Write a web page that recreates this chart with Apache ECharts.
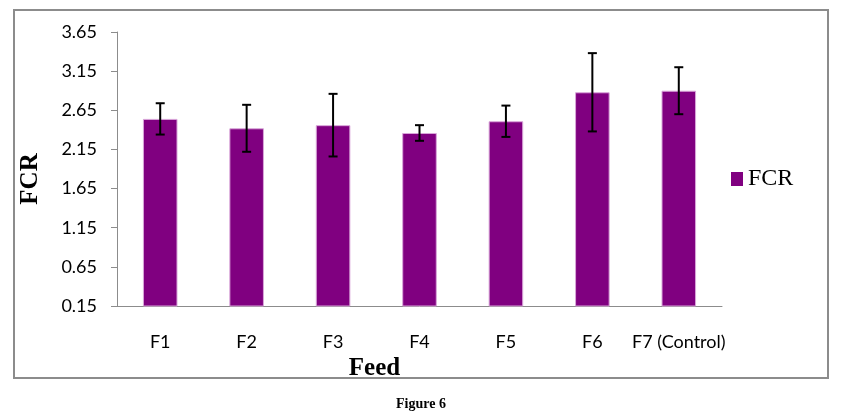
<!DOCTYPE html>
<html>
<head>
<meta charset="utf-8">
<script src="https://cdn.jsdelivr.net/npm/echarts@6/dist/echarts.min.js"></script>
<style>
  html, body { margin: 0; padding: 0; background: #fff; }
  #container { width: 842px; height: 420px; }
</style>
</head>
<body>
<div id="container"></div>
<script>
var feeds = ["F1", "F2", "F3", "F4", "F5", "F6", "F7 (Control)"];
var fcr = [2.54, 2.42, 2.46, 2.36, 2.51, 2.88, 2.90];
var fcrErr = [0.20, 0.30, 0.40, 0.10, 0.20, 0.50, 0.30];

var chart = echarts.init(document.getElementById("container"));

var errData = feeds.map(function (f, i) {
    return [i, fcr[i] - fcrErr[i], fcr[i] + fcrErr[i]];
});

var option = {
    animation: false,
    backgroundColor: "#fff",
    grid: { left: 117, right: 120, top: 32, bottom: 114 },
    legend: {
        data: [{ name: "FCR", icon: "rect", itemStyle: { borderWidth: 0 } }],
        orient: "vertical",
        left: 726, top: 162,
        itemWidth: 12, itemHeight: 14, itemGap: 6,
        textStyle: { fontFamily: "Liberation Serif", fontSize: 24, color: "#000" }
    },
    xAxis: {
        type: "category",
        data: feeds,
        name: "Feed",
        nameLocation: "middle",
        nameGap: 40,
        nameTextStyle: { fontFamily: "Liberation Serif", fontWeight: "bold", fontSize: 25, color: "#000", padding: [0, 90, 0, 0] },
        axisLine: { lineStyle: { color: "#8c8c8c", width: 1 } },
        axisTick: { show: false },
        axisLabel: { fontFamily: "Lato", fontSize: 18, color: "#000", margin: 27, interval: 0 }
    },
    yAxis: {
        type: "value",
        min: 0.15, max: 3.65, interval: 0.5,
        name: "FCR",
        nameLocation: "middle",
        nameGap: 74,
        nameRotate: 90,
        nameTextStyle: { fontFamily: "Liberation Serif", fontWeight: "bold", fontSize: 25, color: "#000", padding: [0, 20, 0, 0] },
        axisLine: { show: true, lineStyle: { color: "#8c8c8c", width: 1 } },
        axisTick: { show: true, inside: false, length: 6, lineStyle: { color: "#8c8c8c" } },
        splitLine: { show: false },
        axisLabel: {
            fontFamily: "Lato", fontSize: 18, color: "#000", margin: 20,
            formatter: function (v) { return v.toFixed(2); }
        }
    },
    series: [
        {
            name: "FCR",
            type: "bar",
            data: fcr,
            barWidth: "40%",
            itemStyle: { color: "#800080", borderColor: "#d9a6d9", borderWidth: 1 }
        },
        {
            name: "err",
            type: "custom",
            data: errData,
            z: 10,
            renderItem: function (params, api) {
                var x = api.value(0);
                var lo = api.coord([x, api.value(1)]);
                var hi = api.coord([x, api.value(2)]);
                var w = 4.5;
                var st = { stroke: "#000", lineWidth: 2 };
                return {
                    type: "group",
                    children: [
                        { type: "line", shape: { x1: lo[0], y1: lo[1], x2: hi[0], y2: hi[1] }, style: st },
                        { type: "line", shape: { x1: lo[0] - w, y1: lo[1], x2: lo[0] + w, y2: lo[1] }, style: st },
                        { type: "line", shape: { x1: hi[0] - w, y1: hi[1], x2: hi[0] + w, y2: hi[1] }, style: st }
                    ]
                };
            }
        }
    ],
    graphic: [
        {
            type: "rect",
            shape: { x: 14, y: 10, width: 814, height: 368 },
            style: { fill: "none", stroke: "#8c8c8c", lineWidth: 2 },
            silent: true
        },
        {
            type: "text",
            left: "center", top: 397,
            style: { text: "Figure 6", fontFamily: "Liberation Serif", fontWeight: "bold", fontSize: 14, fill: "#000" }
        }
    ]
};

chart.setOption(option);
</script>
</body>
</html>
